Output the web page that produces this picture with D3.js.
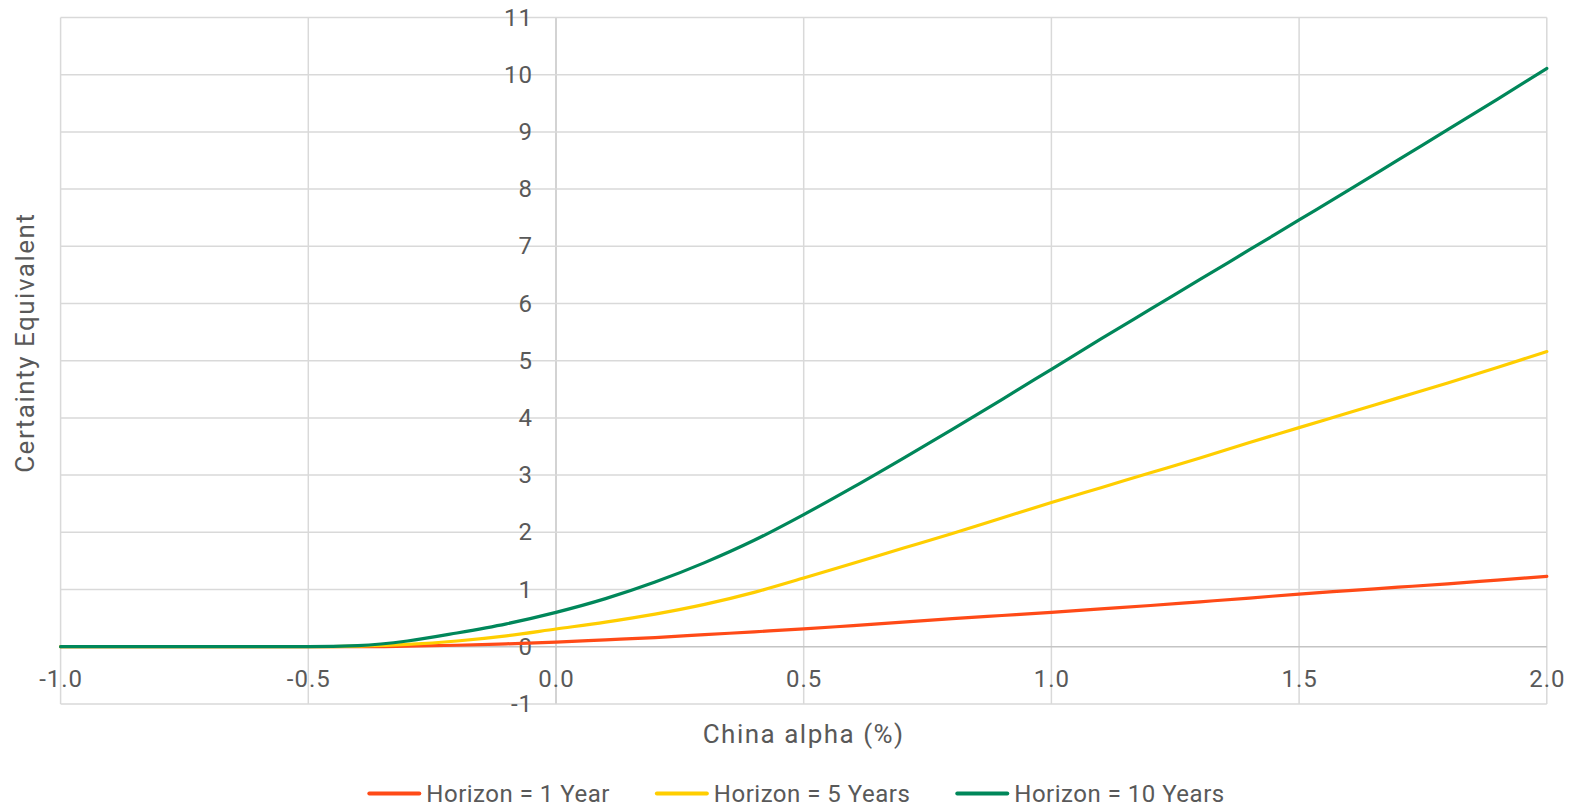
<!DOCTYPE html>
<html>
<head>
<meta charset="utf-8">
<script src="https://cdn.jsdelivr.net/npm/d3@7"></script>
<style>
  html, body { margin: 0; padding: 0; background: #fff; }
  svg text { font-family: Roboto, "Noto Sans", sans-serif; fill: #595959; }
</style>
</head>
<body>
<svg id="chart" width="1575" height="807"></svg>
<script>
// ---- data ----
const alpha = [-1.0,-0.9,-0.8,-0.7,-0.6,-0.5,-0.4,-0.3,-0.2,-0.1,0.0,0.1,0.2,0.3,0.4,0.5,0.6,0.7,0.8,0.9,1.0,1.1,1.2,1.3,1.4,1.5,1.6,1.7,1.8,1.9,2.0];
const horizon1 = [0,0,0,0,0,0,0.00,0.01,0.025,0.05,0.08,0.12,0.16,0.21,0.26,0.31,0.37,0.43,0.49,0.545,0.60,0.66,0.72,0.785,0.85,0.92,0.98,1.04,1.10,1.165,1.23];
const horizon5 = [0,0,0,0,0,0,0.01,0.04,0.10,0.19,0.31,0.43,0.57,0.74,0.95,1.20,1.46,1.72,1.98,2.25,2.52,2.78,3.04,3.30,3.57,3.83,4.09,4.35,4.61,4.88,5.16];
const horizon10 = [0,0,0,0,0,0,0.02,0.10,0.24,0.40,0.60,0.84,1.13,1.47,1.86,2.31,2.79,3.29,3.80,4.32,4.85,5.38,5.90,6.42,6.94,7.46,7.98,8.51,9.04,9.57,10.11];
const seriesNames = ["Horizon = 1 Year", "Horizon = 5 Years", "Horizon = 10 Years"];
const xTicks = [-1.0,-0.5,0.0,0.5,1.0,1.5,2.0];
const yTicks = [-1,0,1,2,3,4,5,6,7,8,9,10,11];
const xTitle = "China alpha (%)";
const yTitle = "Certainty Equivalent";

const series = [
  { name: seriesNames[0], values: horizon1, color: "#FF4A17" },
  { name: seriesNames[1], values: horizon5, color: "#FFCE00" },
  { name: seriesNames[2], values: horizon10, color: "#00875A" }
];

// ---- layout ----
const svg = d3.select("#chart");
const L = 60.6, R = 1546.8, T = 17.5, B = 703.9;
const x = d3.scaleLinear().domain([-1, 2]).range([L, R]);
const y = d3.scaleLinear().domain([-1, 11]).range([B, T]);

// gridlines
const grid = svg.append("g");
grid.selectAll("line.v").data(xTicks).join("line")
  .attr("x1", d => x(d)).attr("x2", d => x(d))
  .attr("y1", T).attr("y2", B)
  .attr("stroke", d => d === 0 ? "#c4c4c4" : "#d9d9d9")
  .attr("stroke-width", 1.5);
grid.selectAll("line.h").data(yTicks).join("line")
  .attr("x1", L).attr("x2", R)
  .attr("y1", d => y(d)).attr("y2", d => y(d))
  .attr("stroke", d => d === 0 ? "#c4c4c4" : "#d9d9d9")
  .attr("stroke-width", 1.5);

// axes (labels only)
const yAxis = svg.append("g")
  .attr("transform", `translate(${x(0)},0)`)
  .call(d3.axisLeft(y).tickValues(yTicks).tickSize(0).tickPadding(23).tickFormat(d => String(d)));
yAxis.select(".domain").remove();
yAxis.selectAll("text").style("font-size", "24px").style("letter-spacing", "1px").attr("fill", "#595959")
  .style("font-family", "Roboto, 'Noto Sans', sans-serif");

const xAxis = svg.append("g")
  .attr("transform", `translate(0,${y(0)})`)
  .call(d3.axisBottom(x).tickValues(xTicks).tickSize(0).tickPadding(23).tickFormat(d => d.toFixed(1)));
xAxis.select(".domain").remove();
xAxis.selectAll("text").style("font-size", "24px").style("letter-spacing", "1px").attr("fill", "#595959")
  .style("font-family", "Roboto, 'Noto Sans', sans-serif");

// lines
const line = d3.line()
  .x((d, i) => x(alpha[i]))
  .y(d => y(d))
  .curve(d3.curveMonotoneX);

svg.append("g").selectAll("path").data(series).join("path")
  .attr("d", d => line(d.values))
  .attr("fill", "none")
  .attr("stroke", d => d.color)
  .attr("stroke-width", 3.2)
  .attr("stroke-linecap", "round")
  .attr("stroke-linejoin", "round");

// axis titles
svg.append("text")
  .attr("x", (L + R) / 2).attr("y", 734)
  .attr("text-anchor", "middle").attr("dominant-baseline", "central")
  .style("font-size", "26px").style("letter-spacing", "1.5px")
  .text(xTitle);

svg.append("text")
  .attr("transform", `translate(25,${(T + B) / 2 - 18}) rotate(-90)`)
  .attr("text-anchor", "middle").attr("dominant-baseline", "central")
  .style("font-size", "26px").style("letter-spacing", "1.5px")
  .text(yTitle);

// legend
const legend = svg.append("g");
const lgY = 793.5;
const items = legend.selectAll("g").data(series).join("g");
items.append("line")
  .attr("x1", 0).attr("x2", 50).attr("y1", lgY).attr("y2", lgY)
  .attr("stroke", d => d.color).attr("stroke-width", 4).attr("stroke-linecap", "round");
items.append("text")
  .attr("x", 57).attr("y", lgY)
  .attr("dominant-baseline", "central")
  .style("font-size", "24px").style("letter-spacing", "0.5px")
  .text(d => d.name);
let widths = [];
items.each(function() { widths.push(57 + d3.select(this).select("text").node().getComputedTextLength()); });
const gap = 47;
const total = d3.sum(widths) + gap * (widths.length - 1);
let cx = 797 - total / 2;
items.each(function(d, i) {
  d3.select(this).attr("transform", `translate(${cx},0)`);
  cx += widths[i] + gap;
});
</script>
</body>
</html>
